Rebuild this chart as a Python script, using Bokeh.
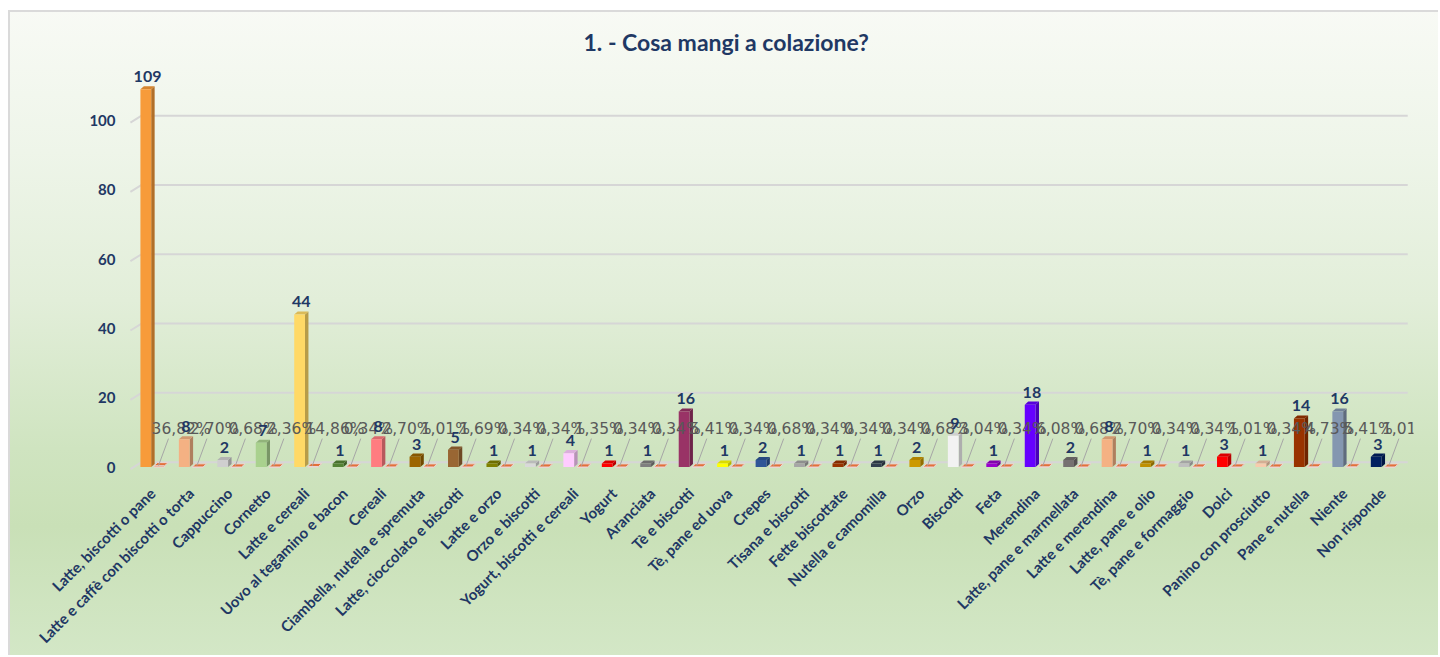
import math
from bokeh.plotting import figure
from bokeh.models import Range1d, FixedTicker
from bokeh.embed import file_html
from bokeh.resources import INLINE
from bokeh.core.properties import value

title_text = "1. - Cosa mangi a colazione?"

categories = [
    "Latte, biscotti o pane", "Latte e caffè con biscotti o torta", "Cappuccino",
    "Cornetto", "Latte e cereali", "Uovo al tegamino e bacon", "Cereali",
    "Ciambella, nutella e spremuta", "Latte, cioccolato e biscotti", "Latte e orzo",
    "Orzo e biscotti", "Yogurt, biscotti e cereali", "Yogurt", "Aranciata",
    "Tè e biscotti", "Tè, pane ed uova", "Crepes", "Tisana e biscotti",
    "Fette biscottate", "Nutella e camomilla", "Orzo", "Biscotti", "Feta",
    "Merendina", "Latte, pane e marmellata", "Latte e merendina",
    "Latte, pane e olio", "Tè, pane e formaggio", "Dolci",
    "Panino con prosciutto", "Pane e nutella", "Niente", "Non risponde",
]

counts = [109, 8, 2, 7, 44, 1, 8, 3, 5, 1, 1, 4, 1, 1, 16, 1, 2, 1, 1, 1,
          2, 9, 1, 18, 2, 8, 1, 1, 3, 1, 14, 16, 3]

percents = [36.82, 2.70, 0.68, 2.36, 14.86, 0.34, 2.70, 1.01, 1.69, 0.34,
            0.34, 1.35, 0.34, 0.34, 5.41, 0.34, 0.68, 0.34, 0.34, 0.34,
            0.68, 3.04, 0.34, 6.08, 0.68, 2.70, 0.34, 0.34, 1.01, 0.34,
            4.73, 5.41, 1.01]

bar_colors = [
    "#F79B3A", "#F4B183", "#CFCFCF", "#A9D18E", "#FFD966", "#548235", "#FF7C80",
    "#9C6500", "#996633", "#808000", "#D9D9D9", "#FFCCFF", "#FF0000", "#7F7F7F",
    "#993366", "#FFFF00", "#2F5597", "#A6A6A6", "#993300", "#333F50", "#CC9900",
    "#F2F2F2", "#9900CC", "#6600FF", "#767171", "#F4B183", "#BF9000", "#BFBFBF",
    "#FF0000", "#F8CBAD", "#993300", "#8497B0", "#002060",
]

y_ticks = [0, 20, 40, 60, 80, 100]

NAVY = "#1F3864"


def shade(hex_color, f):
    h = hex_color.lstrip("#")
    r, g, b = (int(h[i:i + 2], 16) for i in (0, 2, 4))
    return "#%02x%02x%02x" % (int(r * f), int(g * f), int(b * f))


n = len(categories)
xc = list(range(1, n + 1))
DX, DY = 0.09, 0.9

p = figure(width=1430, height=645,
           x_range=Range1d(0.25, 33.8), y_range=Range1d(-1, 115),
           output_backend="svg", toolbar_location=None,
           min_border_left=115, min_border_right=25,
           min_border_top=58, min_border_bottom=185,
           title=title_text)

p.background_fill_color = None
p.border_fill_color = None
p.outline_line_color = None
p.styles = {
    "margin-left": "8px",
    "margin-top": "10px",
    "background": "linear-gradient(to bottom, #f8faf5 0%, #eef5e9 22%, #e2eed9 45%, #cfe4c0 68%, #c9e0b7 80%, #d3e7c6 100%)",
    "box-shadow": "inset 2px 2px 0 0 #dadada",
}

p.title.align = "left"
p.title.offset = 460
p.title.standoff = 25
p.title.text_font = "Lato"
p.title.text_font_style = "bold"
p.title.text_font_size = "23px"
p.title.text_color = NAVY

# gridlines (3D back wall with floor diagonal)
gx = [[0.43, 0.72, 33.65] for _ in y_ticks]
gy = [[v - 0.6, v + 1.4, v + 1.4] for v in y_ticks]
p.multi_line(gx, gy, line_color="#D6D6D6", line_width=2)

# percentage series (tiny bars)
pl = [c + 0.04 for c in xc]
pr = [c + 0.32 for c in xc]
ph = [v / 100 for v in percents]
p.quad(left=pl, right=pr, bottom=0, top=ph, fill_color="#ED7D31",
       line_color="#EAD5D5", line_width=1)
p.patches([[l, l + DX, r + DX, r] for l, r in zip(pl, pr)],
          [[h, h + DY, h + DY, h] for h in ph],
          fill_color="#E2703A", line_color="#EAD5D5", line_width=1)

# count series, 3D columns
bl = [c - 0.31 for c in xc]
br = [c - 0.03 for c in xc]
p.patches([[r, r + DX, r + DX, r] for r in br],
          [[0, DY, h + DY, h] for h in counts],
          fill_color=[shade(c, 0.72) for c in bar_colors], line_color=None)
p.patches([[l, l + DX, r + DX, r] for l, r in zip(bl, br)],
          [[h, h + DY, h + DY, h] for h in counts],
          fill_color=[shade(c, 0.86) for c in bar_colors], line_color=None)
p.quad(left=bl, right=br, bottom=0, top=counts, fill_color=bar_colors,
       line_color=None)

# leader lines + percentage labels
p.segment(x0=[c + 0.16 for c in xc], y0=0.4, x1=[c + 0.42 for c in xc], y1=8.2,
          line_color="#A6A6A6", line_width=1)
p.text(x=[c - 0.02 for c in xc], y=11,
       text=[("%.2f" % v).replace(".", ",") + "%" for v in percents],
       text_font=value("DejaVu Sans"), text_font_size="15.5px",
       text_color="#595959", text_align="left", text_baseline="middle")

# count labels
p.text(x=[(l + r + DX) / 2 for l, r in zip(bl, br)], y=[h + DY for h in counts],
       text=[str(v) for v in counts], text_font=value("Lato"),
       text_font_style="bold", text_font_size="16px", text_color=NAVY,
       text_align="center", text_baseline="bottom", y_offset=-4)

# axes
p.xgrid.visible = False
p.ygrid.visible = False

p.xaxis.ticker = FixedTicker(ticks=xc)
p.xaxis.major_label_overrides = {c: name for c, name in zip(xc, categories)}
p.xaxis.major_label_orientation = math.pi / 4
p.xaxis.axis_line_color = None
p.xaxis.major_tick_line_color = None
p.xaxis.minor_tick_line_color = None
p.xaxis.major_label_standoff = 14
p.xaxis.major_label_text_font = "Lato"
p.xaxis.major_label_text_font_style = "bold"
p.xaxis.major_label_text_font_size = "15px"
p.xaxis.major_label_text_color = NAVY

p.yaxis.ticker = FixedTicker(ticks=y_ticks)
p.yaxis.axis_line_color = None
p.yaxis.major_tick_line_color = None
p.yaxis.minor_tick_line_color = None
p.yaxis.major_tick_out = 0
p.yaxis.major_label_standoff = 8
p.yaxis.major_label_text_font = "Lato"
p.yaxis.major_label_text_font_style = "bold"
p.yaxis.major_label_text_font_size = "15px"
p.yaxis.major_label_text_color = NAVY

open("out.html", "w").write(file_html(p, INLINE))
